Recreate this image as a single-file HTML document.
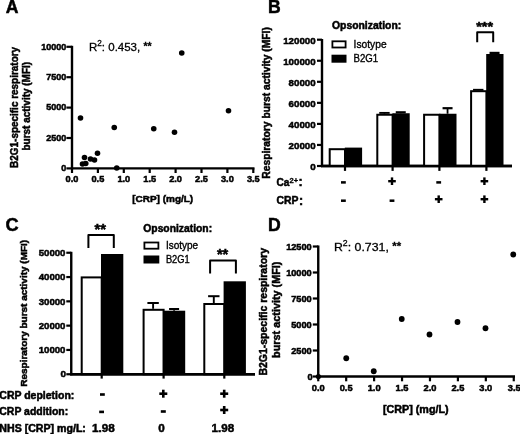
<!DOCTYPE html>
<html><head><meta charset="utf-8"><title>Figure</title>
<style>
html,body{margin:0;padding:0;background:#fff;}
svg{display:block;font-family:"Liberation Sans", Arial, Helvetica, sans-serif;}
text{fill:#000;}
</style></head>
<body>
<svg width="520" height="434" viewBox="0 0 520 434">
<defs><filter id="soft" x="0" y="0" width="520" height="434" filterUnits="userSpaceOnUse"><feGaussianBlur stdDeviation="0.35"/></filter></defs>
<rect x="0" y="0" width="520" height="434" fill="#fff" stroke="none"/>
<g filter="url(#soft)">
<text x="5.8" y="12.8" font-size="17.6" font-weight="bold" stroke="#000" stroke-width="0.5">A</text>
<line x1="72.0" y1="45.8" x2="72.0" y2="169.4" stroke="#000" stroke-width="2.4" stroke-linecap="butt"/>
<line x1="71.0" y1="168.4" x2="254.5" y2="168.4" stroke="#000" stroke-width="2.4" stroke-linecap="butt"/>
<line x1="66.4" y1="168.4" x2="72.0" y2="168.4" stroke="#000" stroke-width="2.2" stroke-linecap="butt"/>
<text x="66.3" y="171.20" font-size="9.0" font-weight="bold" stroke="#000" stroke-width="0.5" text-anchor="end">0</text>
<line x1="66.4" y1="138.0" x2="72.0" y2="138.0" stroke="#000" stroke-width="2.2" stroke-linecap="butt"/>
<text x="66.3" y="140.8" font-size="9.0" font-weight="bold" stroke="#000" stroke-width="0.5" text-anchor="end">2500</text>
<line x1="66.4" y1="107.60" x2="72.0" y2="107.60" stroke="#000" stroke-width="2.2" stroke-linecap="butt"/>
<text x="66.3" y="110.4" font-size="9.0" font-weight="bold" stroke="#000" stroke-width="0.5" text-anchor="end">5000</text>
<line x1="66.4" y1="77.20" x2="72.0" y2="77.20" stroke="#000" stroke-width="2.2" stroke-linecap="butt"/>
<text x="66.3" y="80.00" font-size="9.0" font-weight="bold" stroke="#000" stroke-width="0.5" text-anchor="end">7500</text>
<line x1="66.4" y1="46.80" x2="72.0" y2="46.80" stroke="#000" stroke-width="2.2" stroke-linecap="butt"/>
<text x="66.3" y="49.60" font-size="9.0" font-weight="bold" stroke="#000" stroke-width="0.5" text-anchor="end">10000</text>
<line x1="72.0" y1="168.4" x2="72.0" y2="173" stroke="#000" stroke-width="2.2" stroke-linecap="butt"/>
<text x="72.0" y="182.3" font-size="9.2" font-weight="bold" stroke="#000" stroke-width="0.5" text-anchor="middle">0.0</text>
<line x1="97.9" y1="168.4" x2="97.9" y2="173" stroke="#000" stroke-width="2.2" stroke-linecap="butt"/>
<text x="97.9" y="182.3" font-size="9.2" font-weight="bold" stroke="#000" stroke-width="0.5" text-anchor="middle">0.5</text>
<line x1="123.8" y1="168.4" x2="123.8" y2="173" stroke="#000" stroke-width="2.2" stroke-linecap="butt"/>
<text x="123.8" y="182.3" font-size="9.2" font-weight="bold" stroke="#000" stroke-width="0.5" text-anchor="middle">1.0</text>
<line x1="149.7" y1="168.4" x2="149.7" y2="173" stroke="#000" stroke-width="2.2" stroke-linecap="butt"/>
<text x="149.7" y="182.3" font-size="9.2" font-weight="bold" stroke="#000" stroke-width="0.5" text-anchor="middle">1.5</text>
<line x1="175.6" y1="168.4" x2="175.6" y2="173" stroke="#000" stroke-width="2.2" stroke-linecap="butt"/>
<text x="175.6" y="182.3" font-size="9.2" font-weight="bold" stroke="#000" stroke-width="0.5" text-anchor="middle">2.0</text>
<line x1="201.5" y1="168.4" x2="201.5" y2="173" stroke="#000" stroke-width="2.2" stroke-linecap="butt"/>
<text x="201.5" y="182.3" font-size="9.2" font-weight="bold" stroke="#000" stroke-width="0.5" text-anchor="middle">2.5</text>
<line x1="227.40" y1="168.4" x2="227.40" y2="173" stroke="#000" stroke-width="2.2" stroke-linecap="butt"/>
<text x="227.40" y="182.3" font-size="9.2" font-weight="bold" stroke="#000" stroke-width="0.5" text-anchor="middle">3.0</text>
<line x1="253.30" y1="168.4" x2="253.30" y2="173" stroke="#000" stroke-width="2.2" stroke-linecap="butt"/>
<text x="253.30" y="182.3" font-size="9.2" font-weight="bold" stroke="#000" stroke-width="0.5" text-anchor="middle">3.5</text>
<text x="162.7" y="201.7" font-size="9.7" font-weight="bold" stroke="#000" stroke-width="0.5" text-anchor="middle" textLength="61.0" lengthAdjust="spacingAndGlyphs">[CRP] (mg/L)</text>
<text x="18.1" y="107.4" font-size="10.7" font-weight="bold" stroke="#000" stroke-width="0.5" text-anchor="middle" textLength="121" lengthAdjust="spacingAndGlyphs" transform="rotate(-90 18.1 107.4)">B2G1-specific respiratory</text>
<text x="29.9" y="106.2" font-size="10.6" font-weight="bold" stroke="#000" stroke-width="0.5" text-anchor="middle" textLength="88.6" lengthAdjust="spacingAndGlyphs" transform="rotate(-90 29.9 106.2)">burst activity (MFI)</text>
<text x="89" y="50.8" font-size="11.5" stroke="#000" stroke-width="0.3" textLength="62.6" lengthAdjust="spacingAndGlyphs">R<tspan font-size="8.2" dy="-4.8">2</tspan><tspan dy="4.8">: 0.453, </tspan><tspan font-weight="bold" font-size="10.5" dy="-0.8">**</tspan></text>
<circle cx="181.75" cy="53" r="2.8" fill="#000"/>
<circle cx="228.5" cy="110.75" r="2.8" fill="#000"/>
<circle cx="153.75" cy="128.75" r="2.8" fill="#000"/>
<circle cx="174.5" cy="132.25" r="2.8" fill="#000"/>
<circle cx="80.5" cy="118" r="2.8" fill="#000"/>
<circle cx="114.25" cy="127.5" r="2.8" fill="#000"/>
<circle cx="97.5" cy="153.25" r="2.8" fill="#000"/>
<circle cx="84.5" cy="157.5" r="2.8" fill="#000"/>
<circle cx="90.5" cy="159" r="2.8" fill="#000"/>
<circle cx="94.5" cy="160" r="2.8" fill="#000"/>
<circle cx="82.5" cy="164" r="2.8" fill="#000"/>
<circle cx="85.75" cy="163.5" r="2.8" fill="#000"/>
<circle cx="116.75" cy="168" r="2.8" fill="#000"/>
<text x="267.9" y="12.9" font-size="17.6" font-weight="bold" stroke="#000" stroke-width="0.5">B</text>
<line x1="322" y1="39" x2="322" y2="167.0" stroke="#000" stroke-width="2.4" stroke-linecap="butt"/>
<line x1="321" y1="166.0" x2="512" y2="166.0" stroke="#000" stroke-width="2.4" stroke-linecap="butt"/>
<line x1="317.0" y1="166.0" x2="322" y2="166.0" stroke="#000" stroke-width="2.2" stroke-linecap="butt"/>
<text x="315.6" y="170.2" font-size="9.8" font-weight="bold" stroke="#000" stroke-width="0.5" text-anchor="end">0</text>
<line x1="317.0" y1="144.95" x2="322" y2="144.95" stroke="#000" stroke-width="2.2" stroke-linecap="butt"/>
<text x="315.6" y="149.15" font-size="9.8" font-weight="bold" stroke="#000" stroke-width="0.5" text-anchor="end" textLength="27.0" lengthAdjust="spacingAndGlyphs">20000</text>
<line x1="317.0" y1="123.9" x2="322" y2="123.9" stroke="#000" stroke-width="2.2" stroke-linecap="butt"/>
<text x="315.6" y="128.1" font-size="9.8" font-weight="bold" stroke="#000" stroke-width="0.5" text-anchor="end" textLength="27.0" lengthAdjust="spacingAndGlyphs">40000</text>
<line x1="317.0" y1="102.85" x2="322" y2="102.85" stroke="#000" stroke-width="2.2" stroke-linecap="butt"/>
<text x="315.6" y="107.05" font-size="9.8" font-weight="bold" stroke="#000" stroke-width="0.5" text-anchor="end" textLength="27.0" lengthAdjust="spacingAndGlyphs">60000</text>
<line x1="317.0" y1="81.8" x2="322" y2="81.8" stroke="#000" stroke-width="2.2" stroke-linecap="butt"/>
<text x="315.6" y="86.0" font-size="9.8" font-weight="bold" stroke="#000" stroke-width="0.5" text-anchor="end" textLength="27.0" lengthAdjust="spacingAndGlyphs">80000</text>
<line x1="317.0" y1="60.75" x2="322" y2="60.75" stroke="#000" stroke-width="2.2" stroke-linecap="butt"/>
<text x="315.6" y="64.95" font-size="9.8" font-weight="bold" stroke="#000" stroke-width="0.5" text-anchor="end" textLength="32.40" lengthAdjust="spacingAndGlyphs">100000</text>
<line x1="317.0" y1="39.70" x2="322" y2="39.70" stroke="#000" stroke-width="2.2" stroke-linecap="butt"/>
<text x="315.6" y="43.90" font-size="9.8" font-weight="bold" stroke="#000" stroke-width="0.5" text-anchor="end" textLength="32.40" lengthAdjust="spacingAndGlyphs">120000</text>
<text x="270.5" y="102.9" font-size="10.1" font-weight="bold" stroke="#000" stroke-width="0.5" text-anchor="middle" textLength="151.5" lengthAdjust="spacingAndGlyphs" transform="rotate(-90 270.5 102.9)">Respiratory burst activity (MFI)</text>
<text x="332.0" y="28.7" font-size="10.1" font-weight="bold" stroke="#000" stroke-width="0.5" textLength="69.2" lengthAdjust="spacingAndGlyphs">Opsonization:</text>
<rect x="332.4" y="41.3" width="13.2" height="6.2" fill="#fff" stroke="#000" stroke-width="1.8"/>
<rect x="332.4" y="55.6" width="13.2" height="6.2" fill="#000" stroke="#000" stroke-width="1.8"/>
<text x="353.6" y="48.0" font-size="10.6" stroke="#000" stroke-width="0.36" textLength="33" lengthAdjust="spacingAndGlyphs">Isotype</text>
<text x="353.6" y="62.3" font-size="10.4" stroke="#000" stroke-width="0.36" textLength="24.6" lengthAdjust="spacingAndGlyphs">B2G1</text>
<rect x="329.7" y="149.2" width="15.3" height="16.80" fill="#fff" stroke="#000" stroke-width="2.0"/>
<rect x="344.8" y="147.6" width="17.3" height="18.40" fill="#000" stroke="#000" stroke-width="0"/>
<line x1="345" y1="166.0" x2="345" y2="170.9" stroke="#000" stroke-width="2.2" stroke-linecap="butt"/>
<line x1="384.45" y1="112.9" x2="384.45" y2="113.75" stroke="#000" stroke-width="1.6" stroke-linecap="butt"/>
<line x1="379.25" y1="112.9" x2="389.65" y2="112.9" stroke="#000" stroke-width="1.9" stroke-linecap="butt"/>
<line x1="400.75" y1="112.3" x2="400.75" y2="113.25" stroke="#000" stroke-width="1.8" stroke-linecap="butt"/>
<line x1="395.75" y1="112.3" x2="405.75" y2="112.3" stroke="#000" stroke-width="2.2" stroke-linecap="butt"/>
<rect x="377.3" y="114.75" width="15.3" height="51.25" fill="#fff" stroke="#000" stroke-width="2.0"/>
<rect x="392.40" y="113.25" width="17.3" height="52.75" fill="#000" stroke="#000" stroke-width="0"/>
<line x1="392.6" y1="166.0" x2="392.6" y2="170.9" stroke="#000" stroke-width="2.2" stroke-linecap="butt"/>
<line x1="447.55" y1="108.2" x2="447.55" y2="113.75" stroke="#000" stroke-width="1.8" stroke-linecap="butt"/>
<line x1="442.55" y1="108.2" x2="452.55" y2="108.2" stroke="#000" stroke-width="2.2" stroke-linecap="butt"/>
<rect x="424.10" y="114.75" width="15.3" height="51.25" fill="#fff" stroke="#000" stroke-width="2.0"/>
<rect x="439.2" y="113.75" width="17.3" height="52.25" fill="#000" stroke="#000" stroke-width="0"/>
<line x1="439.4" y1="166.0" x2="439.4" y2="170.9" stroke="#000" stroke-width="2.2" stroke-linecap="butt"/>
<line x1="478.25" y1="89.8" x2="478.25" y2="90.2" stroke="#000" stroke-width="1.6" stroke-linecap="butt"/>
<line x1="473.05" y1="89.8" x2="483.45" y2="89.8" stroke="#000" stroke-width="1.9" stroke-linecap="butt"/>
<line x1="494.55" y1="52.9" x2="494.55" y2="54.0" stroke="#000" stroke-width="1.8" stroke-linecap="butt"/>
<line x1="489.55" y1="52.9" x2="499.55" y2="52.9" stroke="#000" stroke-width="2.2" stroke-linecap="butt"/>
<rect x="471.10" y="91.2" width="15.3" height="74.8" fill="#fff" stroke="#000" stroke-width="2.0"/>
<rect x="486.2" y="54.0" width="17.3" height="112.0" fill="#000" stroke="#000" stroke-width="0"/>
<line x1="486.4" y1="166.0" x2="486.4" y2="170.9" stroke="#000" stroke-width="2.2" stroke-linecap="butt"/>
<line x1="321" y1="166.0" x2="512" y2="166.0" stroke="#000" stroke-width="2.4" stroke-linecap="butt"/>
<polyline points="477.2,42.2 477.2,32.2 493.2,32.2 493.2,42.2" fill="none" stroke="#000" stroke-width="2.0" stroke-linejoin="round"/>
<text x="484.6" y="30.9" font-size="13.5" font-weight="bold" stroke="#000" stroke-width="0.5" text-anchor="middle" textLength="16.8" lengthAdjust="spacingAndGlyphs">***</text>
<text x="276.4" y="185.9" font-size="10.3" font-weight="bold" stroke="#000" stroke-width="0.5" textLength="12.9" lengthAdjust="spacingAndGlyphs">Ca</text>
<text x="289.6" y="183.2" font-size="6.6" font-weight="bold" stroke="#000" stroke-width="0.3" textLength="8.6" lengthAdjust="spacingAndGlyphs">2+</text>
<text x="298.6" y="186.1" font-size="12.5" font-weight="bold" stroke="#000" stroke-width="0.5">:</text>
<text x="276.4" y="204.4" font-size="10.3" font-weight="bold" stroke="#000" stroke-width="0.5" textLength="22.0" lengthAdjust="spacingAndGlyphs">CRP</text>
<text x="298.9" y="204.6" font-size="12.5" font-weight="bold" stroke="#000" stroke-width="0.5">:</text>
<rect x="341.0" y="181.15" width="4.8" height="2.5" fill="#000"/>
<rect x="388.2" y="180.00" width="7.6" height="2.4" fill="#000"/>
<rect x="390.8" y="177.4" width="2.4" height="7.6" fill="#000"/>
<rect x="436.3" y="181.15" width="4.8" height="2.5" fill="#000"/>
<rect x="480.60" y="180.00" width="7.6" height="2.4" fill="#000"/>
<rect x="483.2" y="177.4" width="2.4" height="7.6" fill="#000"/>
<rect x="341.0" y="199.45" width="4.8" height="2.5" fill="#000"/>
<rect x="389.6" y="199.45" width="4.8" height="2.5" fill="#000"/>
<rect x="434.9" y="198.0" width="7.6" height="2.4" fill="#000"/>
<rect x="437.5" y="195.40" width="2.4" height="7.6" fill="#000"/>
<rect x="480.60" y="198.0" width="7.6" height="2.4" fill="#000"/>
<rect x="483.2" y="195.40" width="2.4" height="7.6" fill="#000"/>
<text x="5.5" y="231.0" font-size="18.2" font-weight="bold" stroke="#000" stroke-width="0.5">C</text>
<line x1="71.25" y1="251.8" x2="71.25" y2="375.25" stroke="#000" stroke-width="2.4" stroke-linecap="butt"/>
<line x1="70.25" y1="374.25" x2="255" y2="374.25" stroke="#000" stroke-width="2.4" stroke-linecap="butt"/>
<line x1="66.3" y1="374.25" x2="71.25" y2="374.25" stroke="#000" stroke-width="2.2" stroke-linecap="butt"/>
<text x="66.0" y="377.45" font-size="9.9" font-weight="bold" stroke="#000" stroke-width="0.5" text-anchor="end">0</text>
<line x1="66.3" y1="349.95" x2="71.25" y2="349.95" stroke="#000" stroke-width="2.2" stroke-linecap="butt"/>
<text x="65.5" y="353.15" font-size="9.9" font-weight="bold" stroke="#000" stroke-width="0.5" text-anchor="end" textLength="26.8" lengthAdjust="spacingAndGlyphs">10000</text>
<line x1="66.3" y1="325.65" x2="71.25" y2="325.65" stroke="#000" stroke-width="2.2" stroke-linecap="butt"/>
<text x="65.5" y="328.85" font-size="9.9" font-weight="bold" stroke="#000" stroke-width="0.5" text-anchor="end" textLength="26.8" lengthAdjust="spacingAndGlyphs">20000</text>
<line x1="66.3" y1="301.35" x2="71.25" y2="301.35" stroke="#000" stroke-width="2.2" stroke-linecap="butt"/>
<text x="65.5" y="304.55" font-size="9.9" font-weight="bold" stroke="#000" stroke-width="0.5" text-anchor="end" textLength="26.8" lengthAdjust="spacingAndGlyphs">30000</text>
<line x1="66.3" y1="277.05" x2="71.25" y2="277.05" stroke="#000" stroke-width="2.2" stroke-linecap="butt"/>
<text x="65.5" y="280.25" font-size="9.9" font-weight="bold" stroke="#000" stroke-width="0.5" text-anchor="end" textLength="26.8" lengthAdjust="spacingAndGlyphs">40000</text>
<line x1="66.3" y1="252.75" x2="71.25" y2="252.75" stroke="#000" stroke-width="2.2" stroke-linecap="butt"/>
<text x="65.5" y="255.95" font-size="9.9" font-weight="bold" stroke="#000" stroke-width="0.5" text-anchor="end" textLength="26.8" lengthAdjust="spacingAndGlyphs">50000</text>
<text x="27.4" y="313.3" font-size="9.9" font-weight="bold" stroke="#000" stroke-width="0.5" text-anchor="middle" textLength="146.9" lengthAdjust="spacingAndGlyphs" transform="rotate(-90 27.4 313.3)">Respiratory burst activity (MFI)</text>
<text x="143.3" y="231.5" font-size="10.2" font-weight="bold" stroke="#000" stroke-width="0.5" textLength="68.8" lengthAdjust="spacingAndGlyphs">Opsonization:</text>
<rect x="144.4" y="242.5" width="14.0" height="6.2" fill="#fff" stroke="#000" stroke-width="1.8"/>
<rect x="144.4" y="256.4" width="14.0" height="6.2" fill="#000" stroke="#000" stroke-width="1.8"/>
<text x="165.9" y="249.4" font-size="10.5" stroke="#000" stroke-width="0.36" textLength="32.2" lengthAdjust="spacingAndGlyphs">Isotype</text>
<text x="165.9" y="263.3" font-size="10.2" stroke="#000" stroke-width="0.36" textLength="23.8" lengthAdjust="spacingAndGlyphs">B2G1</text>
<rect x="81.7" y="277.4" width="20.0" height="96.85" fill="#fff" stroke="#000" stroke-width="2.0"/>
<rect x="101.0" y="254.0" width="22.3" height="120.25" fill="#000" stroke="#000" stroke-width="0"/>
<line x1="101.7" y1="374.25" x2="101.7" y2="378.6" stroke="#000" stroke-width="2.2" stroke-linecap="butt"/>
<line x1="153.1" y1="303.0" x2="153.1" y2="308.8" stroke="#000" stroke-width="1.9" stroke-linecap="butt"/>
<line x1="147.4" y1="303.0" x2="158.80" y2="303.0" stroke="#000" stroke-width="2.0" stroke-linecap="butt"/>
<line x1="174.1" y1="309.0" x2="174.1" y2="310.7" stroke="#000" stroke-width="1.9" stroke-linecap="butt"/>
<line x1="169.1" y1="309.0" x2="179.1" y2="309.0" stroke="#000" stroke-width="2.0" stroke-linecap="butt"/>
<rect x="143.6" y="309.8" width="20.0" height="64.45" fill="#fff" stroke="#000" stroke-width="2.0"/>
<rect x="162.9" y="310.7" width="22.3" height="63.55" fill="#000" stroke="#000" stroke-width="0"/>
<line x1="163.6" y1="374.25" x2="163.6" y2="378.6" stroke="#000" stroke-width="2.2" stroke-linecap="butt"/>
<line x1="213.8" y1="296.2" x2="213.8" y2="303.0" stroke="#000" stroke-width="1.9" stroke-linecap="butt"/>
<line x1="208.10" y1="296.2" x2="219.5" y2="296.2" stroke="#000" stroke-width="2.0" stroke-linecap="butt"/>
<rect x="204.3" y="304.0" width="20.0" height="70.25" fill="#fff" stroke="#000" stroke-width="2.0"/>
<rect x="223.60" y="281.3" width="22.3" height="92.95" fill="#000" stroke="#000" stroke-width="0"/>
<line x1="224.3" y1="374.25" x2="224.3" y2="378.6" stroke="#000" stroke-width="2.2" stroke-linecap="butt"/>
<line x1="70.25" y1="374.25" x2="255" y2="374.25" stroke="#000" stroke-width="2.4" stroke-linecap="butt"/>
<polyline points="88.4,247.9 88.4,235.1 113.8,235.1 113.8,247.9" fill="none" stroke="#000" stroke-width="2.0" stroke-linejoin="round"/>
<text x="100.3" y="233.8" font-size="14" font-weight="bold" stroke="#000" stroke-width="0.5" text-anchor="middle" textLength="11.5" lengthAdjust="spacingAndGlyphs">**</text>
<polyline points="210.1,273.4 210.1,260.6 235.9,260.6 235.9,273.4" fill="none" stroke="#000" stroke-width="2.0" stroke-linejoin="round"/>
<text x="222.6" y="259.4" font-size="14" font-weight="bold" stroke="#000" stroke-width="0.5" text-anchor="middle" textLength="11.4" lengthAdjust="spacingAndGlyphs">**</text>
<text x="-0.7" y="398.7" font-size="10.2" font-weight="bold" stroke="#000" stroke-width="0.5" textLength="75.0" lengthAdjust="spacingAndGlyphs">CRP depletion:</text>
<text x="-0.7" y="415.4" font-size="10.2" font-weight="bold" stroke="#000" stroke-width="0.5" textLength="68.9" lengthAdjust="spacingAndGlyphs">CRP addition:</text>
<text x="-0.7" y="431.5" font-size="10.2" font-weight="bold" stroke="#000" stroke-width="0.5" textLength="86.6" lengthAdjust="spacingAndGlyphs">NHS [CRP] mg/L:</text>
<text x="92.0" y="431.8" font-size="11.7" font-weight="bold" stroke="#000" stroke-width="0.5" textLength="22.8" lengthAdjust="spacingAndGlyphs">1.98</text>
<text x="161.4" y="431.8" font-size="11.7" font-weight="bold" stroke="#000" stroke-width="0.5" text-anchor="middle">0</text>
<text x="211.6" y="431.8" font-size="11.7" font-weight="bold" stroke="#000" stroke-width="0.5" textLength="22.6" lengthAdjust="spacingAndGlyphs">1.98</text>
<rect x="100.0" y="393.2" width="4.8" height="2.6" fill="#000"/>
<rect x="99.20" y="410.60" width="4.8" height="2.6" fill="#000"/>
<rect x="159.3" y="392.4" width="8.0" height="2.6" fill="#000"/>
<rect x="162.0" y="389.7" width="2.6" height="8.0" fill="#000"/>
<rect x="160.8" y="410.2" width="5.0" height="2.6" fill="#000"/>
<rect x="220.2" y="392.4" width="8.0" height="2.6" fill="#000"/>
<rect x="222.90" y="389.7" width="2.6" height="8.0" fill="#000"/>
<rect x="220.2" y="408.7" width="8.0" height="2.6" fill="#000"/>
<rect x="222.90" y="406.0" width="2.6" height="8.0" fill="#000"/>
<text x="268.1" y="230.5" font-size="17.6" font-weight="bold" stroke="#000" stroke-width="0.5">D</text>
<line x1="318.25" y1="245.5" x2="318.25" y2="377.5" stroke="#000" stroke-width="2.4" stroke-linecap="butt"/>
<line x1="317.25" y1="376.5" x2="515" y2="376.5" stroke="#000" stroke-width="2.4" stroke-linecap="butt"/>
<line x1="312.8" y1="376.5" x2="318.25" y2="376.5" stroke="#000" stroke-width="2.2" stroke-linecap="butt"/>
<text x="312.7" y="379.6" font-size="9.2" font-weight="bold" stroke="#000" stroke-width="0.5" text-anchor="end">0</text>
<line x1="312.8" y1="350.5" x2="318.25" y2="350.5" stroke="#000" stroke-width="2.2" stroke-linecap="butt"/>
<text x="311.7" y="353.6" font-size="9.2" font-weight="bold" stroke="#000" stroke-width="0.5" text-anchor="end">2500</text>
<line x1="312.8" y1="324.5" x2="318.25" y2="324.5" stroke="#000" stroke-width="2.2" stroke-linecap="butt"/>
<text x="311.7" y="327.6" font-size="9.2" font-weight="bold" stroke="#000" stroke-width="0.5" text-anchor="end">5000</text>
<line x1="312.8" y1="298.5" x2="318.25" y2="298.5" stroke="#000" stroke-width="2.2" stroke-linecap="butt"/>
<text x="311.7" y="301.6" font-size="9.2" font-weight="bold" stroke="#000" stroke-width="0.5" text-anchor="end">7500</text>
<line x1="312.8" y1="272.5" x2="318.25" y2="272.5" stroke="#000" stroke-width="2.2" stroke-linecap="butt"/>
<text x="311.7" y="275.6" font-size="9.2" font-weight="bold" stroke="#000" stroke-width="0.5" text-anchor="end">10000</text>
<line x1="312.8" y1="246.5" x2="318.25" y2="246.5" stroke="#000" stroke-width="2.2" stroke-linecap="butt"/>
<text x="311.7" y="249.6" font-size="9.2" font-weight="bold" stroke="#000" stroke-width="0.5" text-anchor="end">12500</text>
<line x1="318.25" y1="376.5" x2="318.25" y2="381.3" stroke="#000" stroke-width="2.2" stroke-linecap="butt"/>
<text x="318.25" y="391.3" font-size="9.3" font-weight="bold" stroke="#000" stroke-width="0.5" text-anchor="middle">0.0</text>
<line x1="346.18" y1="376.5" x2="346.18" y2="381.3" stroke="#000" stroke-width="2.2" stroke-linecap="butt"/>
<text x="346.18" y="391.3" font-size="9.3" font-weight="bold" stroke="#000" stroke-width="0.5" text-anchor="middle">0.5</text>
<line x1="374.11" y1="376.5" x2="374.11" y2="381.3" stroke="#000" stroke-width="2.2" stroke-linecap="butt"/>
<text x="374.11" y="391.3" font-size="9.3" font-weight="bold" stroke="#000" stroke-width="0.5" text-anchor="middle">1.0</text>
<line x1="402.04" y1="376.5" x2="402.04" y2="381.3" stroke="#000" stroke-width="2.2" stroke-linecap="butt"/>
<text x="402.04" y="391.3" font-size="9.3" font-weight="bold" stroke="#000" stroke-width="0.5" text-anchor="middle">1.5</text>
<line x1="429.97" y1="376.5" x2="429.97" y2="381.3" stroke="#000" stroke-width="2.2" stroke-linecap="butt"/>
<text x="429.97" y="391.3" font-size="9.3" font-weight="bold" stroke="#000" stroke-width="0.5" text-anchor="middle">2.0</text>
<line x1="457.9" y1="376.5" x2="457.9" y2="381.3" stroke="#000" stroke-width="2.2" stroke-linecap="butt"/>
<text x="457.9" y="391.3" font-size="9.3" font-weight="bold" stroke="#000" stroke-width="0.5" text-anchor="middle">2.5</text>
<line x1="485.83" y1="376.5" x2="485.83" y2="381.3" stroke="#000" stroke-width="2.2" stroke-linecap="butt"/>
<text x="485.83" y="391.3" font-size="9.3" font-weight="bold" stroke="#000" stroke-width="0.5" text-anchor="middle">3.0</text>
<line x1="513.76" y1="376.5" x2="513.76" y2="381.3" stroke="#000" stroke-width="2.2" stroke-linecap="butt"/>
<text x="520.7" y="391.3" font-size="9.3" font-weight="bold" stroke="#000" stroke-width="0.5" text-anchor="end">3.5</text>
<text x="415.8" y="412.7" font-size="10.0" font-weight="bold" stroke="#000" stroke-width="0.5" text-anchor="middle" textLength="65.7" lengthAdjust="spacingAndGlyphs">[CRP] (mg/L)</text>
<text x="267.2" y="311.8" font-size="10.9" font-weight="bold" stroke="#000" stroke-width="0.5" text-anchor="middle" textLength="127.6" lengthAdjust="spacingAndGlyphs" transform="rotate(-90 267.2 311.8)">B2G1-specific respiratory</text>
<text x="280.0" y="309.7" font-size="10.9" font-weight="bold" stroke="#000" stroke-width="0.5" text-anchor="middle" textLength="96.4" lengthAdjust="spacingAndGlyphs" transform="rotate(-90 280.0 309.7)">burst activity (MFI)</text>
<text x="333.9" y="250.7" font-size="11.8" stroke="#000" stroke-width="0.3" textLength="67.2" lengthAdjust="spacingAndGlyphs">R<tspan font-size="8.4" dy="-4.9">2</tspan><tspan dy="4.9">: 0.731, </tspan><tspan font-weight="bold" font-size="10.8" dy="-1.0">**</tspan></text>
<circle cx="346.25" cy="358.25" r="2.9" fill="#000"/>
<circle cx="373.75" cy="371.25" r="2.9" fill="#000"/>
<circle cx="401.75" cy="319" r="2.9" fill="#000"/>
<circle cx="429.5" cy="334.5" r="2.9" fill="#000"/>
<circle cx="457.5" cy="322" r="2.9" fill="#000"/>
<circle cx="485.5" cy="328.25" r="2.9" fill="#000"/>
<circle cx="513.25" cy="254.5" r="2.9" fill="#000"/>
<circle cx="318.4" cy="376.5" r="2.6" fill="#000"/>
</g>
</svg>
</body></html>
